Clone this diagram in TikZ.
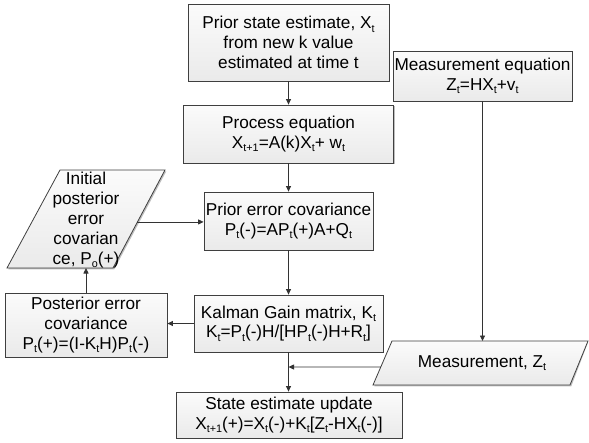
\documentclass[tikz,border=0pt]{standalone}
\usepackage{fontspec}
\setmainfont{Liberation Sans}
\usetikzlibrary{arrows.meta,shadows,calc}
\newcommand\lo[1]{\raisebox{-0.35ex}{\fontsize{10.8}{10.8}\selectfont #1}}
\newcommand\fsz{\fontsize{17.2}{19.8}\selectfont}
\definecolor{boxline}{HTML}{3F3F3F}
\definecolor{arrc}{HTML}{333333}
\definecolor{topc}{HTML}{FBFBFB}
\definecolor{botc}{HTML}{EAEAEA}
\definecolor{shadc}{HTML}{BEBEBE}
\tikzset{
  box/.style={draw=boxline, line width=0.8pt, top color=topc, bottom color=botc,
    align=center, inner sep=0pt, font=\fsz,
    drop shadow={shadow xshift=1.3pt, shadow yshift=-1.3pt, fill=shadc, opacity=1}},
  para/.style={draw=boxline, line width=0.8pt, top color=topc, bottom color=botc},
  parashadow/.style={fill=shadc},
  lbl/.style={align=center, inner sep=0pt, font=\fsz},
  arr/.style={-{Triangle[length=5.5pt,width=5pt]}, draw=arrc, line width=0.8pt}
}
\begin{document}
\begin{tikzpicture}[x=1pt,y=-1pt]
\useasboundingbox (0,0) rectangle (589,442);
% main column
\node[box, minimum width=201pt, minimum height=77pt] (b1) at (288.5,42.5)
  {Prior state estimate, X\lo{t}\\from new k value\\estimated at time t};
\node[box, minimum width=210pt, minimum height=58pt] (b2) at (288.5,134)
  {Process equation\\X\lo{t+1}=A(k)X\lo{t}+ w\lo{t}};
\node[box, minimum width=169pt, minimum height=58pt] (b3) at (288.5,221)
  {Prior error covariance\\P\lo{t}(-)=AP\lo{t}(+)A+Q\lo{t}};
\node[box, minimum width=189pt, minimum height=57pt] (kal) at (288.5,323.5)
  {Kalman Gain matrix, K\lo{t}\\K\lo{t}=P\lo{t}(-)H/[HP\lo{t}(-)H+R\lo{t}]};
\node[box, minimum width=226pt, minimum height=46pt] (st) at (289,415)
  {State estimate update\\X\lo{t+1}(+)=X\lo{t}(-)+K\lo{t}[Z\lo{t}-HX\lo{t}(-)]};
% right
\node[box, minimum width=179pt, minimum height=50pt] (meq) at (482.5,76)
  {Measurement equation\\Z\lo{t}=HX\lo{t}+v\lo{t}};
% left
\node[box, minimum width=162pt, minimum height=64pt] (post) at (86,325)
  {Posterior error\\covariance\\P\lo{t}(+)=(I-K\lo{t}H)P\lo{t}(-)};
% initial parallelogram
\coordinate (iTL) at (60,170);
\coordinate (iTR) at (165,170);
\coordinate (iBR) at (113,268);
\coordinate (iBL) at (7,268);
\fill[parashadow] ($(iTL)+(1.3,1.3)$) -- ($(iTR)+(1.3,1.3)$) -- ($(iBR)+(1.3,1.3)$) -- ($(iBL)+(1.3,1.3)$) -- cycle;
\path[para] (iTL) -- (iTR) -- (iBR) -- (iBL) -- cycle;
\node[lbl] (init) at (86,220)
  {Initial\\posterior\\error\\covarian\\ce, P\lo{o}(+)};
% measurement parallelogram
\coordinate (mTL) at (392,341);
\coordinate (mTR) at (588,341);
\coordinate (mBR) at (570,385);
\coordinate (mBL) at (373,385);
\fill[parashadow] ($(mTL)+(1.3,1.3)$) -- ($(mTR)+(0,1.3)$) -- ($(mBR)+(1.3,1.3)$) -- ($(mBL)+(1.3,1.3)$) -- cycle;
\path[para] (mTL) -- (mTR) -- (mBR) -- (mBL) -- cycle;
\node[lbl] (meas) at (482,363) {Measurement, Z\lo{t}};
% connector helper coordinates
\coordinate (initR) at ($(iTR)!0.53!(iBR)$);
\coordinate (measL) at ($(mTL)!0.59!(mBL)$);
\coordinate (jn) at (288.5,367);
% connectors
\draw[arr] (b1.south) -- (b2.north);
\draw[arr] (b2.south) -- (b3.north);
\draw[arr] (b3.south) -- (kal.north);
\draw[arr] (kal.south) -- (kal.south |- st.north);
\draw[arr] (initR) -- (initR -| b3.west);
\draw[arr] (post.north) -- (post.north |- iBL);
\draw[arr] (kal.west) -- (kal.west -| post.east);
\draw[arr] (meq.south) -- (meq.south |- mTL);
\draw[arr] (measL) -- (jn);
\end{tikzpicture}
\end{document}
